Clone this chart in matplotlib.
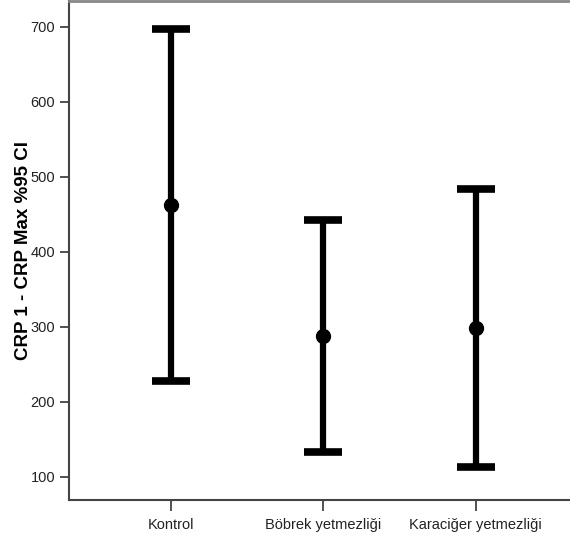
import numpy as np
import matplotlib.pyplot as plt

# Data (mean and 95% CI of CRP 1 - CRP Max)
groups = ['Kontrol', 'Böbrek yetmezliği', 'Karaciğer yetmezliği']
means = [462, 287, 298]
ci_low = [227, 133, 113]
ci_high = [697, 442, 484]
y_ticks = [100, 200, 300, 400, 500, 600, 700]

plt.rcParams['font.family'] = ['Liberation Sans Narrow', 'Liberation Sans', 'DejaVu Sans']

fig = plt.figure(figsize=(5.7, 5.5), dpi=100)
ax = fig.add_axes([0.121, 0.091, 0.893, 0.907])

x = np.arange(len(groups))
means = np.array(means)
yerr = [means - np.array(ci_low), np.array(ci_high) - means]

ax.errorbar(x, means, yerr=yerr, fmt='o', color='black', markersize=10,
            elinewidth=4.5, capsize=13.5, capthick=5.5)

ax.set_xlim(-0.67, 2.67)
ax.set_ylim(69, 734)
ax.set_xticks(x)
ax.set_xticklabels(groups, fontsize=11)
ax.set_yticks(y_ticks)

ax.tick_params(axis='both', labelsize=10.5, colors='#333333', labelcolor='#222222')
ax.tick_params(axis='y', length=6.5, width=1.2)
ax.tick_params(axis='x', length=8, width=1.2, pad=5)

for side in ['left', 'bottom']:
    ax.spines[side].set_color('#444444')
    ax.spines[side].set_linewidth(1.5)
ax.spines['top'].set_color('#888888')
ax.spines['top'].set_linewidth(2)
ax.spines['right'].set_visible(False)

ax.set_ylabel('CRP 1 - CRP Max %95 CI', fontsize=13.5, fontweight='bold',
              family=['Liberation Sans', 'DejaVu Sans'])
ax.yaxis.set_label_coords(-0.072, 0.5)

fig.savefig('out.png', dpi=100)
